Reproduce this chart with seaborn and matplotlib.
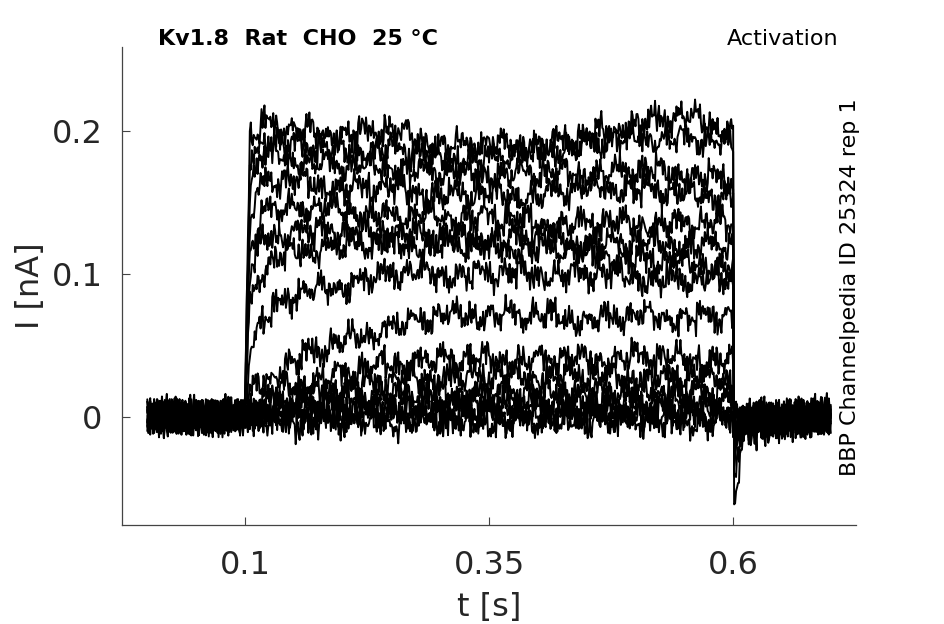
import numpy as np
import pandas as pd
import seaborn as sns
import matplotlib.pyplot as plt

# knot times (s) and current levels (nA), one row per sweep
t_knots = [0.0, 0.1, 0.105, 0.12, 0.15, 0.2, 0.25, 0.3, 0.35, 0.4, 0.45,
           0.5, 0.55, 0.6, 0.601, 0.61, 0.7]
sweeps = [
    [0, 0, 0.195, 0.205, 0.200, 0.198, 0.200, 0.190, 0.190, 0.190, 0.195, 0.205, 0.210, 0.200, -0.065, -0.010, 0],
    [0, 0, 0.180, 0.195, 0.190, 0.185, 0.188, 0.180, 0.180, 0.185, 0.190, 0.195, 0.195, 0.190, -0.040, -0.008, 0],
    [0, 0, 0.160, 0.185, 0.180, 0.175, 0.175, 0.170, 0.170, 0.170, 0.170, 0.172, 0.170, 0.165, -0.030, -0.006, 0],
    [0, 0, 0.140, 0.165, 0.165, 0.160, 0.160, 0.155, 0.155, 0.155, 0.160, 0.160, 0.155, 0.155, -0.025, -0.005, 0],
    [0, 0, 0.120, 0.145, 0.145, 0.145, 0.140, 0.140, 0.140, 0.135, 0.135, 0.135, 0.135, 0.135, -0.020, -0.004, 0],
    [0, 0, 0.100, 0.125, 0.130, 0.130, 0.130, 0.125, 0.125, 0.125, 0.120, 0.122, 0.120, 0.120, -0.018, -0.004, 0],
    [0, 0, 0.080, 0.105, 0.115, 0.120, 0.120, 0.120, 0.118, 0.118, 0.115, 0.110, 0.108, 0.105, -0.015, -0.003, 0],
    [0, 0, 0.050, 0.070, 0.085, 0.092, 0.100, 0.100, 0.100, 0.100, 0.100, 0.098, 0.095, 0.095, -0.012, -0.003, 0],
    [0, 0, 0.015, 0.025, 0.040, 0.052, 0.063, 0.070, 0.072, 0.070, 0.068, 0.070, 0.070, 0.070, -0.010, -0.002, 0],
    [0, 0, 0.004, 0.012, 0.022, 0.030, 0.037, 0.040, 0.040, 0.040, 0.040, 0.042, 0.040, 0.040, -0.008, -0.002, 0],
    [0, 0, 0.002, 0.008, 0.014, 0.020, 0.025, 0.027, 0.028, 0.028, 0.028, 0.027, 0.027, 0.026, -0.006, -0.001, 0],
    [0, 0, 0.001, 0.004, 0.008, 0.012, 0.015, 0.016, 0.017, 0.017, 0.017, 0.017, 0.017, 0.017, -0.004, -0.001, 0],
    [0, 0, 0.001, 0.002, 0.005, 0.007, 0.008, 0.009, 0.010, 0.010, 0.010, 0.010, 0.010, 0.010, -0.003, 0, 0],
    [0, 0, 0.000, 0.001, 0.003, 0.004, 0.005, 0.005, 0.005, 0.005, 0.005, 0.005, 0.005, 0.005, -0.002, 0, 0],
    [0, 0, 0.000, 0.000, 0.000, 0.000, 0.000, 0.000, 0.000, 0.000, 0.000, 0.000, 0.000, 0.000, 0, 0, 0],
    [0, 0, 0.000, -0.002, -0.003, -0.003, -0.003, -0.003, -0.003, -0.003, -0.003, -0.003, -0.003, -0.003, 0, 0, 0],
]

# recording noise, sampled by eye from the baseline (units of 1e-3 nA)
jit_fast = [3, -5, 8, -2, -9, 4, 11, -6, 1, 7, -10, 2, 5, -3, -7, 9, 0, -4, 6,
            -8, 3, 10, -1, -6, 4, -11, 7, 2, -3, 8, -5, 1, 6, -9, 0, 5, -2]
jit_mid = [-2, 4, 1, -5, 3, 6, -3, 0, -6, 2, 5, -1, -4, 3, 7, -2, -5, 1, 4,
           -3, 2, -6, 0]
jit_slow = [2, -3, 4, 1, -4, 3, -1, 5, -2, 0, -5]

dt = 0.001
t = np.round(np.arange(0, 0.7 + dt / 2, dt), 4)
n = len(t)
fast = np.resize(jit_fast, n)
mid = np.resize(jit_mid, n)
slow = np.resize(np.repeat(jit_slow, 9), n)

frames = []
for k, lv in enumerate(sweeps):
    noise = 0.0006 * (np.roll(fast, 7 * k) + np.roll(mid, 5 * k)) + 0.0013 * np.roll(slow, 31 * k)
    frames.append(pd.DataFrame({'t': t, 'I': np.interp(t, t_knots, lv) + noise, 'sweep': k}))
df = pd.concat(frames, ignore_index=True)

sns.set_style('white')
fig = plt.figure(figsize=(9.45, 6.24), dpi=100)
ax = fig.add_axes([0.129, 0.159, 0.777, 0.766])

sns.lineplot(data=df, x='t', y='I', units='sweep', estimator=None,
             color='black', lw=1.4, ax=ax)

ax.set_xlim(-0.026, 0.726)
ax.set_ylim(-0.0755, 0.259)
ax.set_xticks([0.1, 0.35, 0.6])
ax.set_xticklabels(['0.1', '0.35', '0.6'])
ax.set_yticks([0, 0.1, 0.2])
ax.set_yticklabels(['0', '0.1', '0.2'])
ax.tick_params(bottom=True, left=True, direction='in', length=6, width=0.8,
               colors='#444444', labelcolor='#262626', labelsize=23)
ax.tick_params(axis='x', pad=18)
ax.tick_params(axis='y', pad=14)
for s in ['top', 'right']:
    ax.spines[s].set_visible(False)
for s in ['left', 'bottom']:
    ax.spines[s].set_color('#444444')
    ax.spines[s].set_linewidth(0.9)

ax.set_xlabel('t [s]', fontsize=23, color='#262626', labelpad=8)
ax.set_ylabel('I [nA]', fontsize=23, color='#262626', labelpad=4)

fig.text(158 / 945, 1 - 39 / 624, 'Kv1.8  Rat  CHO  25 °C', fontsize=16,
         fontweight='bold', color='black', ha='left', va='center')
fig.text(838 / 945, 1 - 39 / 624, 'Activation', fontsize=16,
         color='black', ha='right', va='center')
fig.text(850 / 945, 1 - 287 / 624, 'BBP Channelpedia ID 25324 rep 1',
         fontsize=16, color='black', rotation=90, ha='center', va='center')

fig.savefig('out.png', dpi=100)
